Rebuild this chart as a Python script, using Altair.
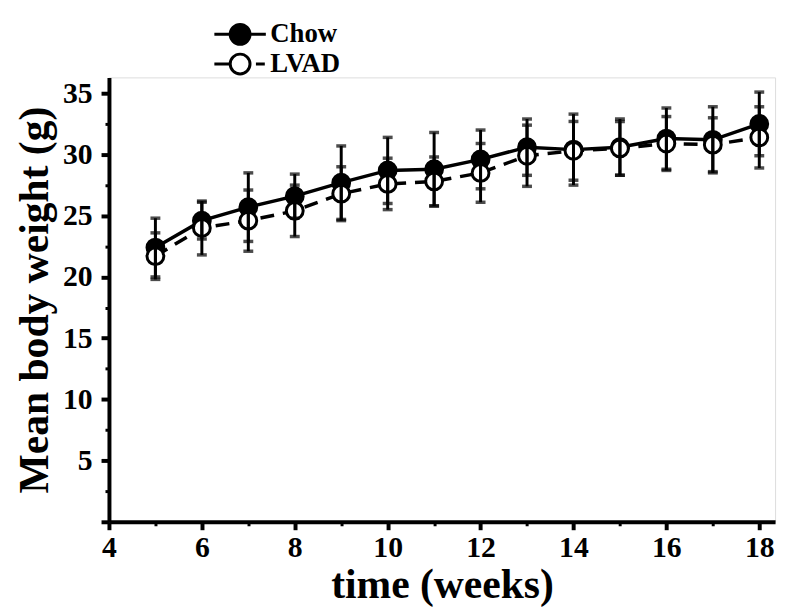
import altair as alt
import pandas as pd

weeks = [5, 6, 7, 8, 9, 10, 11, 12, 13, 14, 15, 16, 17, 18]
chow_mean = [22.4, 24.6, 25.7, 26.6, 27.7, 28.7, 28.8, 29.6, 30.6, 30.4, 30.6, 31.3, 31.2, 32.5]
chow_err = [2.4, 1.5, 2.8, 1.8, 3.0, 2.7, 3.0, 2.4, 2.3, 2.9, 2.3, 2.5, 2.7, 2.6]
lvad_mean = [21.7, 24.0, 24.6, 25.4, 26.8, 27.6, 27.8, 28.5, 29.9, 30.3, 30.5, 30.9, 30.8, 31.4]
lvad_err = [1.9, 2.2, 2.5, 2.1, 2.2, 2.1, 2.0, 2.4, 2.5, 2.4, 2.2, 2.2, 2.2, 2.5]
groups = ["Chow", "LVAD"]

x_major = [4, 6, 8, 10, 12, 14, 16, 18]
x_minor = [5, 7, 9, 11, 13, 15, 17]
y_major = [0, 5, 10, 15, 20, 25, 30, 35]
y_minor = [2.5, 7.5, 12.5, 17.5, 22.5, 27.5, 32.5]

rows = []
for g, means, errs in [("Chow", chow_mean, chow_err), ("LVAD", lvad_mean, lvad_err)]:
    for w, m, e in zip(weeks, means, errs):
        rows.append({"week": w, "group": g, "mean": m, "lo": m - e, "hi": m + e})
df = pd.DataFrame(rows)

FONT = "Liberation Serif"
xs = alt.Scale(domain=[4, 18.34], nice=False, zero=False)
ys = alt.Scale(domain=[0, 36.3], nice=False, zero=True)

x_axis = alt.Axis(values=x_major, title="time (weeks)", labelFont=FONT, labelFontSize=30,
                  labelFontWeight="bold", labelColor="black", titleFont=FONT, titleFontSize=42,
                  titleFontWeight="bold", titleColor="black", domainWidth=4, domainColor="black",
                  tickWidth=4, tickSize=8, tickColor="black", labelPadding=3, titlePadding=2,
                  grid=False, orient="bottom", labelFlush=False)
y_axis = alt.Axis(values=y_major, title="Mean body weight (g)", labelFont=FONT, labelFontSize=30,
                  labelFontWeight="bold", labelColor="black", titleFont=FONT, titleFontSize=42,
                  titleFontWeight="bold", titleColor="black", domainWidth=4, domainColor="black",
                  tickWidth=4, tickSize=8, tickColor="black", labelPadding=9, titlePadding=6,
                  grid=False, orient="left", labelExpr="datum.value == 0 ? '' : datum.label",
                  labelFlush=False)

base = alt.Chart(df)
X = alt.X("week:Q", scale=xs, axis=x_axis)
Y = alt.Y("mean:Q", scale=ys, axis=y_axis)

chow = base.transform_filter("datum.group == 'Chow'")
lvad = base.transform_filter("datum.group == 'LVAD'")

chow_line = chow.mark_line(color="black", strokeWidth=3.5).encode(x=X, y=Y)
lvad_line = lvad.mark_line(color="black", strokeWidth=3.5, strokeDash=[14, 9]).encode(x=X, y=Y)

chow_pts = chow.mark_point(filled=True, shape="circle", size=289, fill="black", stroke="black",
                           strokeWidth=3, opacity=1).encode(x=X, y=Y)
lvad_pts = lvad.mark_point(filled=True, shape="circle", size=289, fill="white", stroke="black",
                           strokeWidth=3, opacity=1).encode(x=X, y=Y)

chow_shape = "M-2,0L-0.77,0M0.77,0L2,0M0.77,0A0.77,0.77,0,1,1,-0.77,0A0.77,0.77,0,1,1,0.77,0Z"
lvad_shape = "M-2,0L-0.77,0M1.23,0L1.92,0M0.77,0A0.77,0.77,0,1,1,-0.77,0A0.77,0.77,0,1,1,0.77,0Z"

def make_legend(y):
    return alt.Legend(
        orient="none", legendX=118, legendY=y, padding=0, title=None,
        labelFont=FONT, labelFontSize=27, labelFontWeight="bold", labelColor="black",
        labelOffset=16, symbolSize=676, symbolStrokeWidth=3,
        symbolOpacity=1,
    )

leg_chow = chow.transform_filter("false").mark_point(
    filled=True, fill="black", stroke="black", strokeWidth=3, opacity=1).encode(
    x=X, y=Y,
    shape=alt.Shape("group:N", scale=alt.Scale(domain=["Chow"], range=[chow_shape]),
                    legend=make_legend(-58)),
)
leg_lvad = lvad.transform_filter("false").mark_point(
    filled=True, fill="white", stroke="black", strokeWidth=3, opacity=1).encode(
    x=X, y=Y,
    shape=alt.Shape("group:N", scale=alt.Scale(domain=["LVAD"], range=[lvad_shape]),
                    legend=make_legend(-28)),
)

err_rule = base.mark_rule(color="black", strokeWidth=3).encode(
    x=X, y=alt.Y("lo:Q", scale=ys, axis=y_axis), y2="hi:Q")
cap_lo = base.mark_tick(color="black", thickness=3.5, size=10, orient="horizontal").encode(
    x=X, y=alt.Y("lo:Q", scale=ys, axis=y_axis))
cap_hi = base.mark_tick(color="black", thickness=3.5, size=10, orient="horizontal").encode(
    x=X, y=alt.Y("hi:Q", scale=ys, axis=y_axis))

main = alt.layer(lvad_line, chow_line, chow_pts, lvad_pts, err_rule, cap_lo, cap_hi,
                 leg_chow, leg_lvad).resolve_scale(shape="independent").resolve_legend(
    shape="independent")

minor = base.mark_point(opacity=0).encode(
    x=alt.X("week:Q", scale=xs, axis=alt.Axis(values=x_minor, labels=False, domain=False,
                                             tickSize=4, tickWidth=3, tickColor="black",
                                             title=None, grid=False, orient="bottom")),
    y=alt.Y("mean:Q", scale=ys, axis=alt.Axis(values=y_minor, labels=False, domain=False,
                                             tickSize=4, tickWidth=3, tickColor="black",
                                             title=None, grid=False, orient="left")),
)

chart = alt.layer(main, minor).resolve_scale(x="independent", y="independent").properties(
    width=673, height=449,
    autosize=alt.AutoSizeParams(type="none"),
    padding={"left": 102, "top": 67, "right": 7, "bottom": 85},
).configure_view(stroke=None).configure(background="white")

chart.save("out.html", embed_options={"renderer": "svg", "actions": False})
